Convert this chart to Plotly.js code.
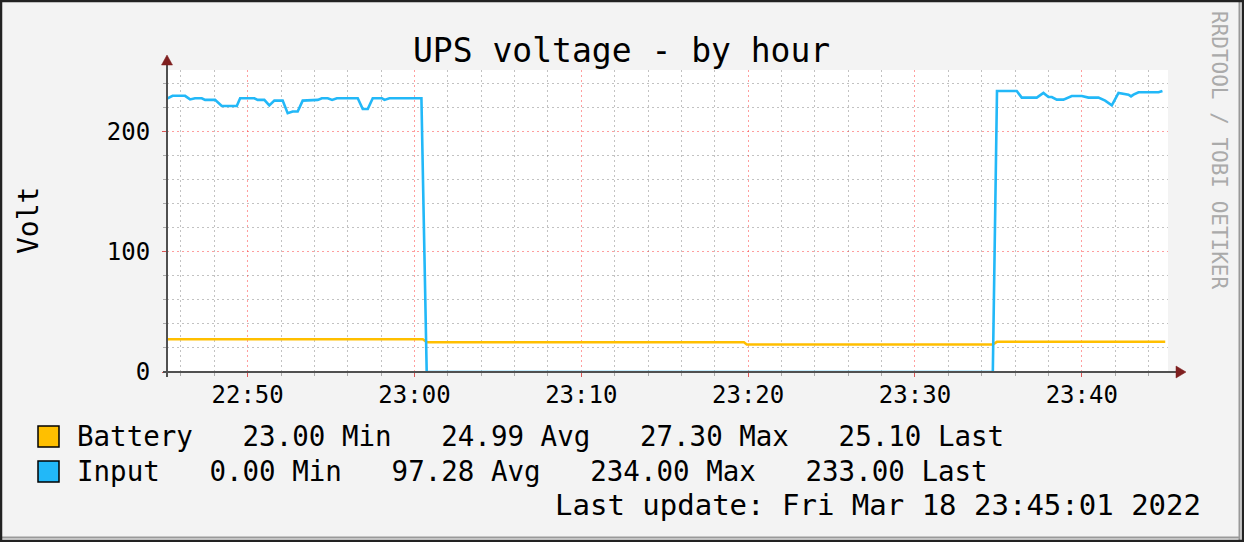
<!DOCTYPE html>
<html>
<head>
<meta charset="utf-8">
<script src="https://cdn.plot.ly/plotly-3.0.1.min.js"></script>
<style>
html,body{margin:0;padding:0;background:#f3f3f3;}
#chart{width:1244px;height:542px;}
</style>
</head>
<body>
<div id="chart"></div>
<script>
// ---- data ----
const DAY = "2022-03-18 ";
const inputTimes = ["22:45:10","22:45:30","22:46:15","22:46:33","22:46:51","22:47:15","22:47:27","22:48:03","22:48:27","22:49:21","22:49:33","22:50:24","22:50:36","22:51:00","22:51:18","22:51:36","22:52:06","22:52:24","22:52:42","22:53:00","22:53:18","22:54:12","22:54:27","22:54:48","22:55:04","22:55:21","22:56:36","22:56:54","22:57:12","22:57:30","22:58:03","22:58:12","22:58:30","23:00:25","23:00:44","23:34:40","23:34:55","23:36:06","23:36:24","23:37:18","23:37:42","23:38:00","23:38:12","23:38:30","23:38:54","23:39:24","23:40:00","23:40:24","23:41:00","23:41:24","23:41:48","23:42:12","23:42:48","23:42:57","23:43:06","23:43:24","23:44:36","23:44:50"];
const inputValues = [227.6,230,230,227,228,228,226.6,226.6,221.5,221.5,228,228,226.6,226.6,222,226,226,215.6,217,217,226,226.6,228,228,226.6,228,228,219,219,228,228,226.6,228,228,0,0,234,234,228.5,228.5,232.4,229,229,226.8,226.8,229.9,229.9,228.5,228.5,226,222,232.4,231,229.5,231,233,233,234];
const batteryTimes = ["22:45:10","23:00:30","23:00:45","23:19:45","23:19:55","23:34:40","23:34:55","23:45:00"];
const batteryValues = [27.3,27.3,24.8,24.8,23.0,23.0,25.1,25.1];
const seriesNames = ["Battery","Input"];
const seriesColors = ["#FFBF00","#22B8F8"];
const legendLines = [
  "Battery   23.00 Min   24.99 Avg   27.30 Max   25.10 Last",
  "Input   0.00 Min   97.28 Avg   234.00 Max   233.00 Last"
];
const titleText = "UPS voltage - by hour";
const yTitle = "Volt";
const lastUpdate = "Last update: Fri Mar 18 23:45:01 2022";
const watermark = "RRDTOOL / TOBI OETIKER";
const xStart = "22:45:10", xEnd = "23:45:10";

// ---- geometry helpers (pixel -> paper) ----
const L = 167, R = 1168, T = 70, B = 372;
const PX = x => (x - L) / (R - L);
const PY = y => (B - y) / (B - T);
const FONT = "DejaVu Sans Mono";

const traces = [
  {x: batteryTimes.map(t => DAY + t), y: batteryValues, name: seriesNames[0], type: "scatter", mode: "lines",
   line: {color: seriesColors[0], width: 2.5}},
  {x: inputTimes.map(t => DAY + t), y: inputValues, name: seriesNames[1], type: "scatter", mode: "lines",
   line: {color: seriesColors[1], width: 2.6}}
];

const shapes = [
  // axis lines
  {type:"line", xref:"paper", yref:"paper", x0:PX(163), x1:PX(1178), y0:PY(372), y1:PY(372), line:{color:"#505050", width:2}, layer:"above"},
  {type:"line", xref:"paper", yref:"paper", x0:PX(167), x1:PX(167), y0:PY(377), y1:PY(62), line:{color:"#505050", width:2}, layer:"above"},
  // arrows
  {type:"path", xref:"paper", yref:"paper", path:`M ${PX(1186)} ${PY(372)} L ${PX(1176)} ${PY(366)} L ${PX(1176)} ${PY(378)} Z`, fillcolor:"#7f1f1f", line:{color:"#7f1f1f", width:0.5}, layer:"above"},
  {type:"path", xref:"paper", yref:"paper", path:`M ${PX(167)} ${PY(55)} L ${PX(161.5)} ${PY(65)} L ${PX(172.5)} ${PY(65)} Z`, fillcolor:"#7f1f1f", line:{color:"#7f1f1f", width:0.5}, layer:"above"},
  // legend squares
  {type:"rect", xref:"paper", yref:"paper", x0:PX(38), x1:PX(59), y0:PY(447), y1:PY(426), fillcolor:seriesColors[0], line:{color:"#000", width:1.5}},
  {type:"rect", xref:"paper", yref:"paper", x0:PX(38), x1:PX(59), y0:PY(482), y1:PY(461), fillcolor:seriesColors[1], line:{color:"#000", width:1.5}},
  // frame
  {type:"line", xref:"paper", yref:"paper", x0:PX(1239.5), x1:PX(1239.5), y0:PY(2), y1:PY(540), line:{color:"#999", width:2}},
  {type:"line", xref:"paper", yref:"paper", x0:PX(2), x1:PX(1240), y0:PY(537.5), y1:PY(537.5), line:{color:"#999", width:2}},
  {type:"rect", xref:"paper", yref:"paper", x0:PX(1), x1:PX(1243), y0:PY(1), y1:PY(541), line:{color:"#222", width:2.5}}
];

const annotations = [
  {xref:"paper", yref:"paper", x:PX(621), y:PY(50), text:titleText, showarrow:false, font:{family:FONT, size:33, color:"#000"}, xanchor:"center", yanchor:"middle"},
  {xref:"paper", yref:"paper", x:PX(28), y:PY(221), text:yTitle, textangle:-90, showarrow:false, font:{family:FONT, size:28, color:"#000"}, xanchor:"center", yanchor:"middle"},
  {xref:"paper", yref:"paper", x:PX(1219), y:PY(150), text:watermark, textangle:90, showarrow:false, font:{family:FONT, size:21, color:"#aaaaaa"}, xanchor:"center", yanchor:"middle"},
  {xref:"paper", yref:"paper", x:PX(75), y:PY(436), text:legendLines[0].replace(/ /g,"&nbsp;"), showarrow:false, font:{family:FONT, size:27.5, color:"#000"}, xanchor:"left", yanchor:"middle"},
  {xref:"paper", yref:"paper", x:PX(75), y:PY(471), text:legendLines[1].replace(/ /g,"&nbsp;"), showarrow:false, font:{family:FONT, size:27.5, color:"#000"}, xanchor:"left", yanchor:"middle"},
  {xref:"paper", yref:"paper", x:PX(1203), y:PY(505), text:lastUpdate, showarrow:false, font:{family:FONT, size:29, color:"#000"}, xanchor:"right", yanchor:"middle"}
];

const layout = {
  width: 1244, height: 542,
  margin: {l: L, r: 1244 - R, t: T, b: 542 - B, pad: 0},
  paper_bgcolor: "#f3f3f3", plot_bgcolor: "#ffffff",
  showlegend: false,
  font: {family: FONT, color: "#000"},
  xaxis: {
    type: "date", range: [DAY + xStart, DAY + xEnd],
    tick0: DAY + "22:50:00", dtick: 600000, tickformat: "%H:%M",
    showgrid: true, gridcolor: "rgba(255,40,40,0.45)", griddash: "2px,3px", gridwidth: 1,
    minor: {dtick: 120000, tick0: DAY + "22:50:00", showgrid: true, gridcolor: "rgba(120,120,120,0.45)", griddash: "2px,3px", ticks: "outside", ticklen: 3, tickcolor: "#aaa"},
    ticks: "outside", ticklen: 4, tickcolor: "#d55",
    zeroline: false, showline: false,
    tickfont: {family: FONT, size: 24, color: "#000"}, ticklabelstandoff: -3
  },
  yaxis: {
    range: [0, 251.5], dtick: 100, tick0: 0,
    showgrid: true, gridcolor: "rgba(255,40,40,0.45)", griddash: "2px,3px", gridwidth: 1,
    minor: {dtick: 20, showgrid: true, gridcolor: "rgba(120,120,120,0.45)", griddash: "2px,3px", ticks: "outside", ticklen: 3, tickcolor: "#aaa"},
    ticks: "outside", ticklen: 4, tickcolor: "#d55",
    zeroline: false, showline: false,
    tickfont: {family: FONT, size: 24, color: "#000"}, ticklabelstandoff: 7
  },
  shapes: shapes,
  annotations: annotations
};

Plotly.newPlot("chart", traces, layout, {staticPlot: true, displayModeBar: false});
</script>
</body>
</html>
